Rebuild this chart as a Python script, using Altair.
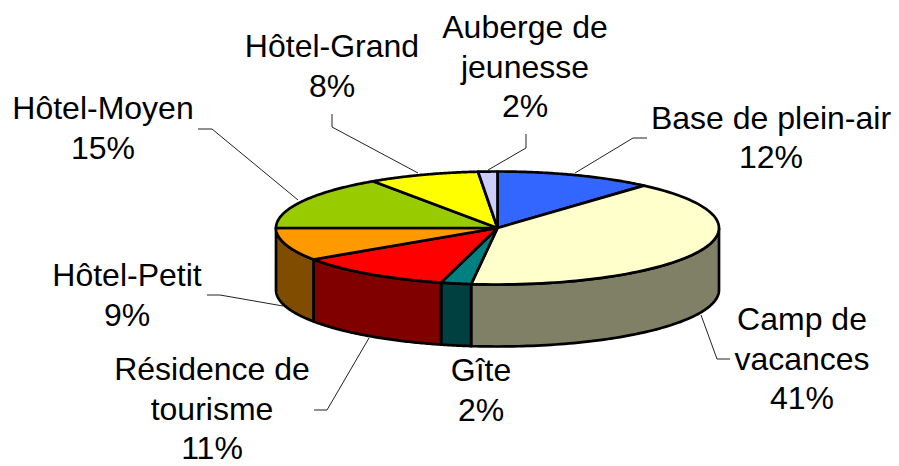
import numpy as np
import pandas as pd
import altair as alt

# --- values ---
categories = ["Base de plein-air", "Camp de vacances", "Gîte", "Résidence de tourisme",
              "Hôtel-Petit", "Hôtel-Moyen", "Hôtel-Grand", "Auberge de jeunesse"]
printed_pct = ["12%", "41%", "2%", "11%", "9%", "15%", "8%", "2%"]
drawn_share = [11.5, 40.4, 2.2, 11.5, 9.4, 15.5, 8.1, 1.4]
label_lines = [["Base de plein-air"], ["Camp de", "vacances"], ["Gîte"], ["Résidence de", "tourisme"],
               ["Hôtel-Petit"], ["Hôtel-Moyen"], ["Hôtel-Grand"], ["Auberge de", "jeunesse"]]

# --- styles ---
top_colors = ["#3366FF", "#FFFFCC", "#008080", "#FF0000", "#FF9900", "#99CC00", "#FFFF00", "#CCCCFF"]
wall_colors = ["#1A3380", "#808066", "#004040", "#800000", "#804D00", "#4D6600", "#808000", "#666680"]

# --- layout (page pixels) ---
CX, CY, RX, RY, DEPTH = 497.5, 228, 221.5, 56.5, 62
label_x = [771, 802, 481, 212, 127, 103, 332, 525]
label_first_baseline = [128.5, 330, 381, 380, 286, 119, 57, 38]
line_step = 39.5
leaders = [
    [(575, 173), (633, 138), (647, 138)],
    [(701, 315), (717, 359), (730, 359)],
    [(369, 338), (327, 410), (314, 410)],
    [(283, 306), (220, 295), (207, 295)],
    [(298, 200), (212, 129), (198, 129)],
    [(418, 173), (332, 127), (332, 114)],
    [(488, 170), (526, 148), (526, 134)],
]

x_scale = alt.Scale(domain=[8, 891], range=[0, 883], nice=False, zero=False)
y_scale = alt.Scale(domain=[8, 466], range=[0, 458], nice=False, zero=False)
X = lambda: alt.X("x:Q", scale=x_scale, axis=None)
Y = lambda: alt.Y("y:Q", scale=y_scale, axis=None)


def ellipse(a, dy=0.0):
    return CX + RX * np.sin(a), CY - RY * np.cos(a) + dy


def polygon(xs, ys, fill, width=2.7):
    df = pd.DataFrame({"x": xs, "y": ys, "i": range(len(xs))})
    return alt.Chart(df).mark_line(fill=fill, stroke="black", strokeWidth=width,
                                   strokeJoin="round", interpolate="linear").encode(
        x=X(), y=Y(), order="i:Q")


edges = np.cumsum([0] + drawn_share) / 100 * 2 * np.pi
layers = []

# leader lines
for pts in leaders:
    df = pd.DataFrame({"x": [p[0] for p in pts], "y": [p[1] for p in pts], "i": range(len(pts))})
    layers.append(alt.Chart(df).mark_line(color="#222222", strokeWidth=1).encode(x=X(), y=Y(), order="i:Q"))

# side walls: only the front half of the rim is visible
for k in range(len(drawn_share)):
    a0, a1 = max(edges[k], np.pi / 2), min(edges[k + 1], 3 * np.pi / 2)
    if a1 <= a0:
        continue
    t = np.linspace(a0, a1, 80)
    xt, yt = ellipse(t)
    xb, yb = ellipse(t[::-1], DEPTH)
    layers.append(polygon(np.r_[xt, xb, xt[0]], np.r_[yt, yb, yt[0]], wall_colors[k]))

# top faces
for k in range(len(drawn_share)):
    t = np.linspace(edges[k], edges[k + 1], 80)
    xt, yt = ellipse(t)
    layers.append(polygon(np.r_[CX, xt, CX], np.r_[CY, yt, CY], top_colors[k]))

# labels
rows = []
for k, lines in enumerate(label_lines):
    for j, line in enumerate(lines + [printed_pct[k]]):
        rows.append({"x": label_x[k], "y": label_first_baseline[k] + j * line_step, "t": line})
layers.append(alt.Chart(pd.DataFrame(rows)).mark_text(
    font="Liberation Sans", fontSize=32, color="black", align="center", baseline="alphabetic"
).encode(x=X(), y=Y(), text="t:N"))

chart = alt.layer(*layers).properties(
    width=883, height=458, padding=0, autosize=alt.AutoSizeParams(type="none")
).configure_view(stroke=None)

chart.save("out.html", embed_options={"renderer": "svg", "actions": False})
